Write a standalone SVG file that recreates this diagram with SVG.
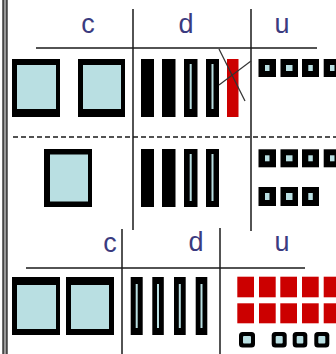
<svg xmlns="http://www.w3.org/2000/svg" width="336" height="354" viewBox="0 0 336 354">
<style>
.lbl{font-family:"Liberation Sans",Arial,sans-serif;font-size:27px;fill:#3b3b80;text-anchor:middle}
.ln{stroke:#1a1a1a;stroke-width:1.5;fill:none}
.dash{stroke:#1a1a1a;stroke-width:1.5;fill:none;stroke-dasharray:5 3}
.blk{fill:#000}
.lb{fill:#b9dfe2}
.red{fill:#cc0000}
.cross{stroke:#333;stroke-width:1.2;fill:none}
</style>
<rect x="0" y="0" width="336" height="354" fill="#fff"/>
<g id="border"><rect x="3" y="-1" width="4" height="356" fill="#999" stroke="#111" stroke-width="1.2"/></g>
<g id="connectors">
<line class="ln" x1="36" y1="48" x2="317" y2="48"/>
<line class="ln" x1="133" y1="9" x2="133" y2="230"/>
<line class="ln" x1="251" y1="9" x2="251" y2="231"/>
<line class="dash" x1="13" y1="137" x2="336" y2="137"/>
<line class="ln" x1="26" y1="268" x2="305" y2="268"/>
<line class="ln" x1="122" y1="229" x2="122" y2="354"/>
<line class="ln" x1="220" y1="228" x2="220" y2="354"/>
</g>
<g id="labels-top">
<text class="lbl" x="88" y="33">c</text>
<text class="lbl" x="186" y="33">d</text>
<text class="lbl" x="282" y="33">u</text>
</g>
<g id="labels-bottom">
<text class="lbl" x="110" y="252">c</text>
<text class="lbl" x="196" y="251">d</text>
<text class="lbl" x="282" y="251">u</text>
</g>
<g id="top-c">
<rect class="blk" x="12" y="59" width="48" height="58"/><rect class="lb" x="17" y="65" width="39" height="44"/>
<rect class="blk" x="78" y="59" width="47" height="58"/><rect class="lb" x="83" y="65" width="38" height="44"/>
</g>
<g id="top-d">
<rect class="blk" x="141" y="59" width="13" height="58"/>
<rect class="blk" x="162" y="59" width="13.5" height="58"/>
<rect class="blk" x="184" y="59" width="13.5" height="58"/><rect class="lb" x="189.7" y="64" width="2" height="45"/>
<rect class="blk" x="206" y="59" width="13" height="58"/><rect class="lb" x="211.5" y="64" width="2" height="45"/>
<rect class="red" x="227" y="59" width="11.5" height="58"/>
<line class="cross" x1="219" y1="49" x2="245" y2="101"/>
<line class="cross" x1="219" y1="85" x2="251" y2="61"/>
</g>
<g id="top-u">
<rect class="blk" x="258.5" y="59" width="17.5" height="18"/><rect class="lb" x="265" y="65" width="4.5" height="6"/>
<rect class="blk" x="280.5" y="59" width="17.5" height="18"/><rect class="lb" x="286" y="65" width="6.5" height="6"/>
<rect class="blk" x="302" y="59" width="17" height="18"/><rect class="lb" x="308.3" y="65" width="4.5" height="6"/>
<rect class="blk" x="323.7" y="59" width="17.5" height="18"/><rect class="lb" x="330" y="65" width="4.5" height="6"/>
</g>
<g id="mid-c">
<rect class="blk" x="44" y="149" width="48" height="58"/><rect class="lb" x="50" y="154.5" width="38" height="47"/>
</g>
<g id="mid-d">
<rect class="blk" x="141" y="149" width="13" height="58"/>
<rect class="blk" x="162" y="149" width="13.5" height="58"/>
<rect class="blk" x="184" y="149" width="13.5" height="58"/><rect class="lb" x="189.7" y="154" width="2" height="47"/>
<rect class="blk" x="206" y="149" width="13" height="58"/><rect class="lb" x="211.5" y="154" width="2" height="47"/>
</g>
<g id="mid-u">
<rect class="blk" x="258.5" y="149.3" width="17.5" height="18"/><rect class="lb" x="265" y="155.3" width="4.5" height="6"/>
<rect class="blk" x="280.5" y="149.3" width="17.5" height="18"/><rect class="lb" x="286" y="155.3" width="6.5" height="6"/>
<rect class="blk" x="302" y="149.3" width="17" height="18"/><rect class="lb" x="308.3" y="155.3" width="4.5" height="6"/>
<rect class="blk" x="323.7" y="149.3" width="17.5" height="18"/><rect class="lb" x="330" y="155.3" width="4.5" height="6"/>
<rect class="blk" x="258.5" y="187" width="17.5" height="19"/><rect class="lb" x="265" y="193" width="4.5" height="7"/>
<rect class="blk" x="280.5" y="187" width="17.5" height="19"/><rect class="lb" x="286" y="193" width="6.5" height="7"/>
<rect class="blk" x="302" y="187" width="17" height="19"/><rect class="lb" x="308.3" y="193" width="4.5" height="7"/>
</g>
<g id="bot-c">
<rect class="blk" x="12" y="277" width="48" height="58"/><rect class="lb" x="17" y="285" width="39" height="44"/>
<rect class="blk" x="66" y="277" width="48" height="58"/><rect class="lb" x="71" y="285" width="38" height="44"/>
</g>
<g id="bot-d">
<rect class="blk" x="130.7" y="277" width="12" height="58"/><rect class="lb" x="135.7" y="284" width="2" height="44"/>
<rect class="blk" x="152.3" y="277" width="11.5" height="58"/><rect class="lb" x="157" y="284" width="2" height="44"/>
<rect class="blk" x="174" y="277" width="11.7" height="58"/><rect class="lb" x="178.8" y="284" width="2" height="44"/>
<rect class="blk" x="195.7" y="277" width="11.6" height="58"/><rect class="lb" x="200.5" y="284" width="2" height="44"/>
</g>
<g id="bot-u">
<rect class="red" x="237.3" y="276.7" width="16.7" height="20.6"/>
<rect class="red" x="259" y="276.7" width="16.7" height="20.6"/>
<rect class="red" x="280.3" y="276.7" width="16.7" height="20.6"/>
<rect class="red" x="302" y="276.7" width="16.7" height="20.6"/>
<rect class="red" x="323.7" y="276.7" width="16.7" height="20.6"/>
<rect class="red" x="237.3" y="303.3" width="16.7" height="20"/>
<rect class="red" x="259" y="303.3" width="16.7" height="20"/>
<rect class="red" x="280.3" y="303.3" width="16.7" height="20"/>
<rect class="red" x="302" y="303.3" width="16.7" height="20"/>
<rect class="red" x="323.7" y="303.3" width="16.7" height="20"/>
<rect class="blk" x="239" y="332" width="16" height="15.5" rx="3.5"/><rect class="lb" x="243" y="336" width="8" height="7.5" rx="1"/>
<rect class="blk" x="271.7" y="332" width="15" height="15.5" rx="3.5"/><rect class="lb" x="275.7" y="336" width="7" height="7.5" rx="1"/>
<rect class="blk" x="292.7" y="332" width="14.6" height="15.5" rx="3.5"/><rect class="lb" x="296.7" y="336" width="6.6" height="7.5" rx="1"/>
<rect class="blk" x="314.3" y="332" width="15" height="15.5" rx="3.5"/><rect class="lb" x="318.3" y="336" width="7" height="7.5" rx="1"/>
</g>
</svg>
